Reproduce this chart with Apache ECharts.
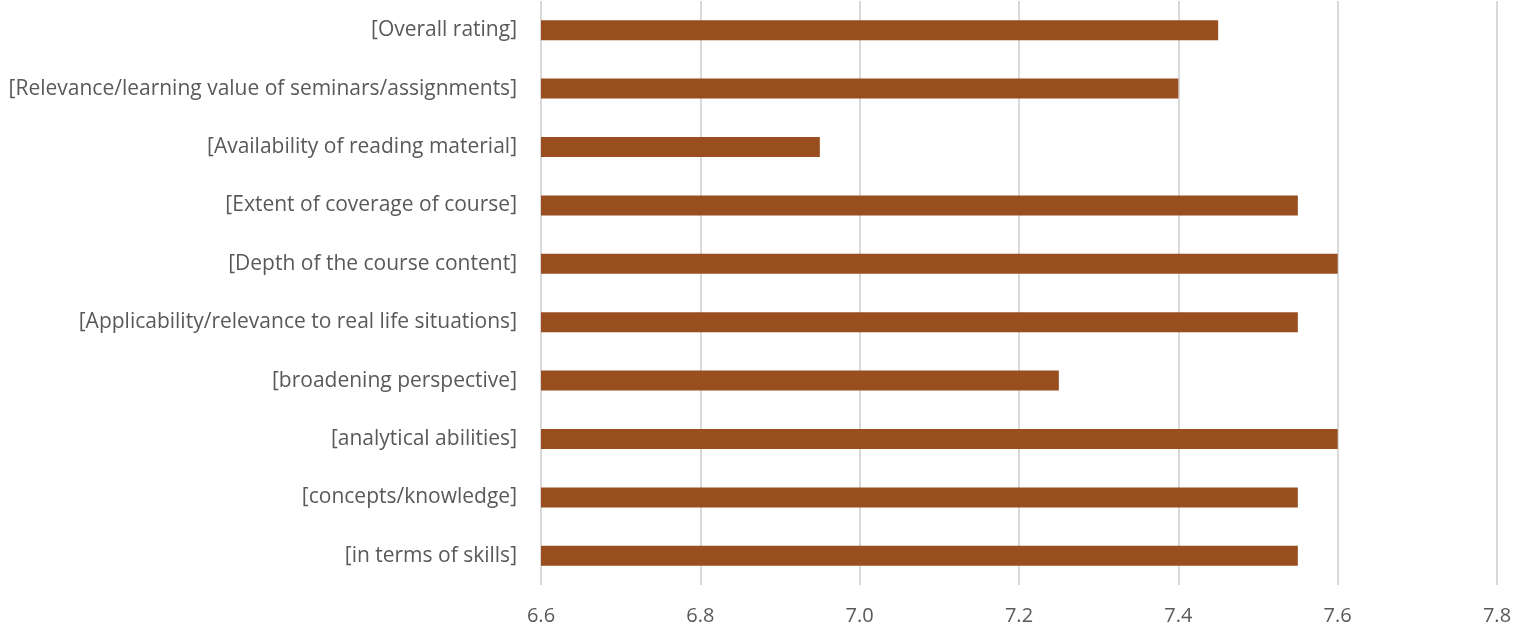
<!DOCTYPE html>
<html><head><meta charset="utf-8">
<script src="https://cdn.jsdelivr.net/npm/echarts@6/dist/echarts.min.js"></script>
<style>html,body{margin:0;padding:0;background:#fff}#c{width:1538px;height:632px}</style>
</head><body><div id="c"></div>
<script>
const categories = [
  "[in terms of skills]",
  "[concepts/knowledge]",
  "[analytical abilities]",
  "[broadening perspective]",
  "[Applicability/relevance to real life situations]",
  "[Depth of the course content]",
  "[Extent of coverage of course]",
  "[Availability of reading material]",
  "[Relevance/learning value of seminars/assignments]",
  "[Overall rating]"
];
const values = [7.55, 7.55, 7.6, 7.25, 7.55, 7.6, 7.55, 6.95, 7.4, 7.45];
const xTicks = { min: 6.6, max: 7.8, interval: 0.2 };

const chart = echarts.init(document.getElementById('c'), null, {renderer: 'canvas'});
const font = '"Open Sans", "Liberation Sans", sans-serif';
chart.setOption({
  animation: false,
  grid: { left: 541, right: 41, top: 1, bottom: 47, containLabel: false },
  xAxis: {
    type: 'value', min: xTicks.min, max: xTicks.max, interval: xTicks.interval,
    axisLine: { show: false }, axisTick: { show: false },
    splitLine: { show: true, lineStyle: { color: '#d9d9d9', width: 2 } },
    axisLabel: { color: '#595959', fontSize: 20, fontFamily: font, margin: 21,
      formatter: v => v.toFixed(1) }
  },
  yAxis: {
    type: 'category', data: categories,
    axisLine: { show: false }, axisTick: { show: false },
    axisLabel: { color: '#595959', fontSize: 21, fontFamily: font, margin: 24 }
  },
  series: [{
    type: 'bar', data: values, barWidth: 20,
    itemStyle: { color: '#984E1F' }
  }]
});
</script></body></html>
